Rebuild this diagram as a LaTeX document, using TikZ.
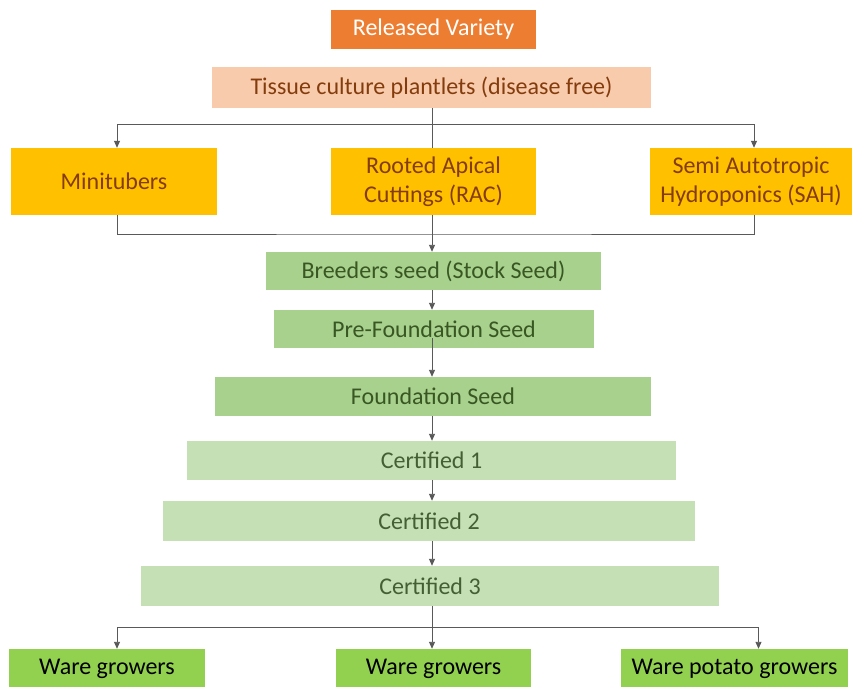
\documentclass[tikz,border=0pt]{standalone}
\usepackage{fontspec}
\setmainfont{Carlito}
\usetikzlibrary{arrows.meta}
\definecolor{orangeF}{HTML}{ED7D31}
\definecolor{peachF}{HTML}{F8CBAD}
\definecolor{brownT}{HTML}{843C0C}
\definecolor{yellowF}{HTML}{FFC000}
\definecolor{greenF}{HTML}{A9D18E}
\definecolor{greenT}{HTML}{385723}
\definecolor{lgreenF}{HTML}{C5E0B4}
\definecolor{lgreenT}{HTML}{435F33}
\definecolor{wareF}{HTML}{92D050}
\definecolor{lineC}{HTML}{595959}
\begin{document}
\begin{tikzpicture}[x=1pt,y=-1pt,
  box/.style={rectangle, inner sep=0pt, draw=none, align=center, font=\fontsize{24}{29}\selectfont},
  conn/.style={draw=lineC, line width=0.9pt},
  arr/.style={conn, -{Triangle[length=7pt,width=6pt]}}]
\useasboundingbox (0,0) rectangle (856,687);
\node[box, fill=orangeF, text=white, minimum width=205pt, minimum height=39pt] (rv) at (433.5,29.5) {Released Variety};
\node[box, fill=peachF, text=brownT, minimum width=439pt, minimum height=41pt] (tc) at (431.5,87.5) {Tissue culture plantlets (disease free)};
\node[box, fill=yellowF, text=brownT, minimum width=206pt, minimum height=67pt] (mt) at (114,181.5) {Minitubers};
\node[box, fill=yellowF, text=brownT, minimum width=205pt, minimum height=67pt] (rac) at (433.5,181.5) {Rooted Apical\\Cuttings (RAC)};
\node[box, fill=yellowF, text=brownT, minimum width=202pt, minimum height=67pt] (sah) at (751,181.5) {Semi Autotropic\\Hydroponics (SAH)};
\node[box, fill=greenF, text=greenT, minimum width=335pt, minimum height=38pt] (bs) at (433.5,271) {Breeders seed (Stock Seed)};
\node[box, fill=greenF, text=greenT, minimum width=320pt, minimum height=38pt] (pf) at (434,329) {Pre-Foundation Seed};
\node[box, fill=greenF, text=greenT, minimum width=436pt, minimum height=39pt] (fs) at (433,396.5) {Foundation Seed};
\node[box, fill=lgreenF, text=lgreenT, minimum width=489pt, minimum height=39pt] (c1) at (431.5,460.5) {Certified 1};
\node[box, fill=lgreenF, text=lgreenT, minimum width=532pt, minimum height=40pt] (c2) at (429,521) {Certified 2};
\node[box, fill=lgreenF, text=lgreenT, minimum width=578pt, minimum height=40pt] (c3) at (430,586) {Certified 3};
\node[box, fill=wareF, text=black, minimum width=196pt, minimum height=40pt] (w1) at (107,669) {Ware growers};
\node[box, fill=wareF, text=black, minimum width=195pt, minimum height=40pt] (w2) at (433.5,669) {Ware growers};
\node[box, fill=wareF, text=black, minimum width=227pt, minimum height=40pt] (w3) at (734.5,669) {Ware potato growers};
% top split
\coordinate (j1) at (432,124);
\draw[conn] (tc.south -| j1) -- (rac.north -| j1);
\draw[arr] (j1) -| ([xshift=3pt]mt.north);
\draw[arr] (j1) -| ([xshift=3pt]sah.north);
% merge
\coordinate (j2) at (432,234);
\draw[conn] ([xshift=3pt]mt.south) |- (j2) -| ([xshift=3pt]sah.south);
\draw[arr] (rac.south -| j2) -- (bs.north -| j2);
% chain
\draw[arr] (bs.south -| j2) -- (pf.north -| j2);
\draw[arr] ([yshift=10pt]pf.south -| j2) -- (fs.north -| j2);
\draw[arr] (fs.south -| j2) -- (c1.north -| j2);
\draw[arr] (c1.south -| j2) -- (c2.north -| j2);
\draw[arr] (c2.south -| j2) -- (c3.north -| j2);
% bottom split
\coordinate (j3) at (432,627);
\draw[arr] (c3.south -| j3) -- (w2.north -| j3);
\draw[arr] (j3) -| ([xshift=10pt]w1.north);
\draw[arr] (j3) -| ([xshift=24pt]w3.north);
\end{tikzpicture}
\end{document}
